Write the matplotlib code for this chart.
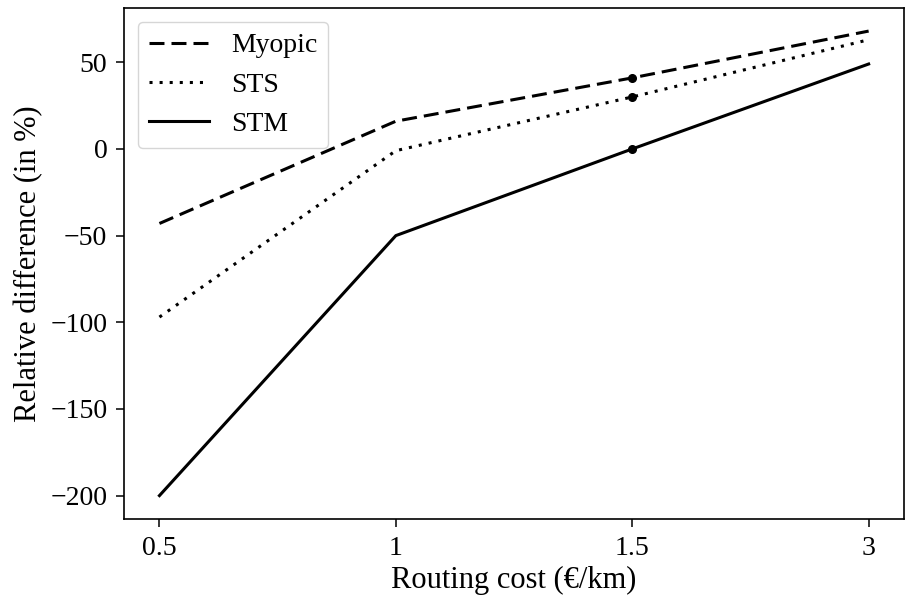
import matplotlib
matplotlib.use('Agg')
import matplotlib.pyplot as plt
from matplotlib.lines import Line2D

plt.rcParams['font.family'] = ['Liberation Serif', 'DejaVu Serif']

# 資料
costs = ['0.5', '1', '1.5', '3']
myopic = [-43, 16, 41, 68]
sts = [-97, -1, 30, 63]
stm = [-200, -50, 0, 49]
mark_idx = [2]

LW = 2.2
DASH = (0, (4.9, 2.3))
DOT = (0, (1, 2.3))

fig = plt.figure(figsize=(9.05, 6.04), dpi=100)
ax = fig.add_axes([0.137, 0.141, 0.862, 0.846])

x = list(range(len(costs)))
ax.plot(x, myopic, color='k', ls=DASH, lw=LW, marker='o', markersize=5.5, markevery=mark_idx)
ax.plot(x, sts, color='k', ls=DOT, lw=LW, marker='o', markersize=5.5, markevery=mark_idx)
ax.plot(x, stm, color='k', ls='-', lw=LW, marker='o', markersize=5.5, markevery=mark_idx)

ax.set_xticks(x)
ax.set_xticklabels(costs)
ax.tick_params(labelsize=20, length=5.5, width=1.1, pad=6.5)
for s in ax.spines.values():
    s.set_linewidth(1.2)
ax.set_xlabel('Routing cost (€/km)', fontsize=22, labelpad=4)
ax.set_ylabel('Relative difference (in %)', fontsize=22, labelpad=5)

# 圖例不顯示標記
handles = [Line2D([], [], color='k', ls=DASH, lw=LW),
           Line2D([], [], color='k', ls=DOT, lw=LW),
           Line2D([], [], color='k', ls='-', lw=LW)]
ax.legend(handles, ['Myopic', 'STS', 'STM'], loc='upper left', fontsize=20,
          handlelength=2.15)

plt.savefig('out.png')
